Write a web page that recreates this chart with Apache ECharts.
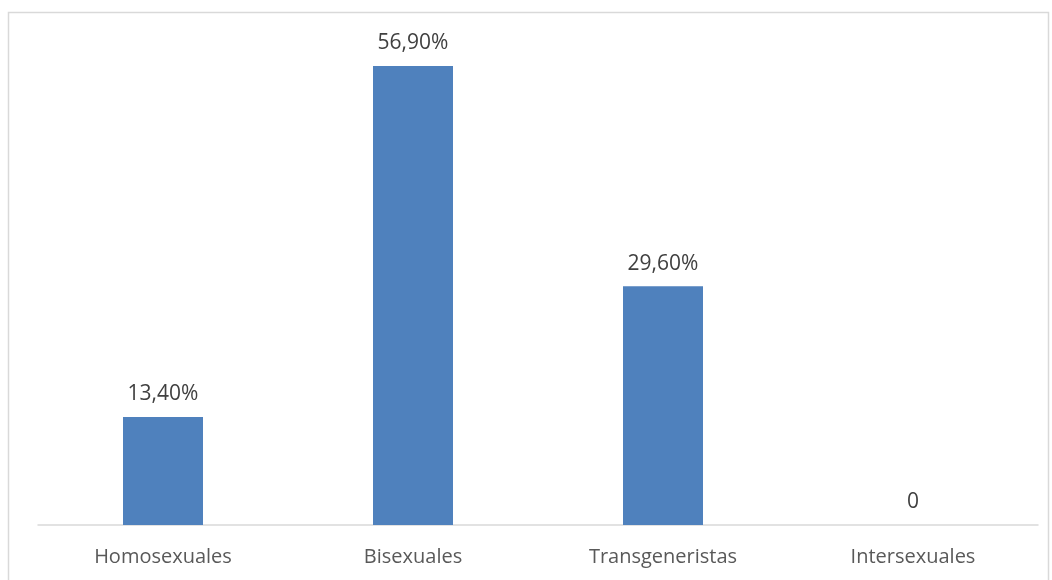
<!DOCTYPE html>
<html>
<head>
<meta charset="utf-8">
<script src="https://cdn.jsdelivr.net/npm/echarts@6/dist/echarts.min.js"></script>
<style>html,body{margin:0;padding:0;background:#fff;}#c{width:1052px;height:580px;}</style>
</head>
<body>
<div id="c"></div>
<script>
const categories = ["Homosexuales", "Bisexuales", "Transgeneristas", "Intersexuales"];
const values = [13.4, 56.9, 29.6, 0];
const labelTexts = ["13,40%", "56,90%", "29,60%", "0"];

const chart = echarts.init(document.getElementById('c'));
chart.setOption({
  animation: false,
  backgroundColor: '#ffffff',
  grid: { left: 38, right: 14, top: 41, bottom: 55 },
  graphic: [{
    type: 'rect',
    shape: { x: 8.5, y: 12.5, width: 1040, height: 600 },
    style: { fill: 'none', stroke: '#d9d9d9', lineWidth: 1.5 },
    silent: true
  }],
  xAxis: {
    type: 'category',
    data: categories,
    axisLine: { lineStyle: { color: '#d9d9d9', width: 1.5 } },
    axisTick: { show: false },
    axisLabel: { color: '#595959', fontFamily: '"Open Sans", sans-serif', fontSize: 20, margin: 22 }
  },
  yAxis: {
    type: 'value', min: 0, max: 60,
    show: false,
    splitLine: { show: false }
  },
  series: [{
    type: 'bar',
    data: values,
    barWidth: '32%',
    itemStyle: { color: '#4F81BD' },
    label: {
      show: true, position: 'top', distance: 12,
      color: '#404040', fontFamily: '"Open Sans", sans-serif', fontSize: 21,
      formatter: p => labelTexts[p.dataIndex]
    }
  }]
});
</script>
</body>
</html>
